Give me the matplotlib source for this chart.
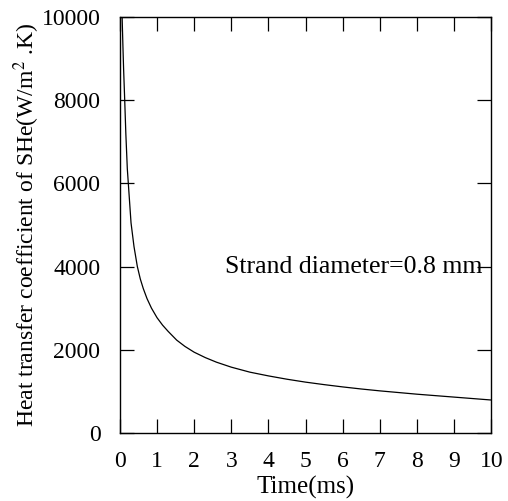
import numpy as np
import matplotlib
matplotlib.use('Agg')
import matplotlib.pyplot as plt

plt.rcParams['font.family'] = ['Liberation Serif', 'DejaVu Serif']
plt.rcParams['mathtext.fontset'] = 'stix'

# Values
time_ms = [0.06, 0.08, 0.1, 0.13, 0.16, 0.2, 0.25, 0.3, 0.38, 0.47, 0.55, 0.63,
           0.73, 0.85, 1.0, 1.15, 1.3, 1.53, 1.75, 2.0, 2.3, 2.6, 3.0, 3.5,
           4.0, 4.5, 5.0, 5.5, 6.0, 6.5, 7.0, 7.5, 8.0, 8.5, 9.0, 9.5, 10.0]
h_she = [10000, 9350, 8750, 8000, 7200, 6350, 5700, 5050, 4480, 4000, 3700, 3470,
         3230, 3000, 2770, 2590, 2440, 2230, 2080, 1940, 1810, 1700, 1580, 1460,
         1370, 1290, 1220, 1160, 1105, 1055, 1010, 970, 930, 895, 860, 825, 790]

x_ticks = [0, 1, 2, 3, 4, 5, 6, 7, 8, 9, 10]
y_ticks = [0, 2000, 4000, 6000, 8000, 10000]

fig = plt.figure(figsize=(5.08, 5.01), dpi=100)
ax = fig.add_axes([0.236, 0.136, 0.731, 0.830])

ax.plot(time_ms, h_she, color='black', linewidth=0.9)

ax.set_xlim(0, 10)
ax.set_ylim(0, 10000)
ax.set_xticks(x_ticks)
ax.set_yticks(y_ticks)
ax.tick_params(direction='in', length=10, width=0.9, top=True, right=True,
               labelsize=17)
ax.tick_params(axis='x', pad=13)
ax.tick_params(axis='y', pad=14)
for s in ax.spines.values():
    s.set_linewidth(1.0)

ax.set_xlabel('Time(ms)', fontsize=18, labelpad=3)
ax.set_ylabel(r'Heat transfer coefficient of SHe(W/m$^2$ .K)', fontsize=17, labelpad=0)

ax.text(9.76, 4000, 'Strand diameter=0.8 mm', fontsize=18.5, ha='right', va='center')

fig.savefig('out.png', dpi=100)
